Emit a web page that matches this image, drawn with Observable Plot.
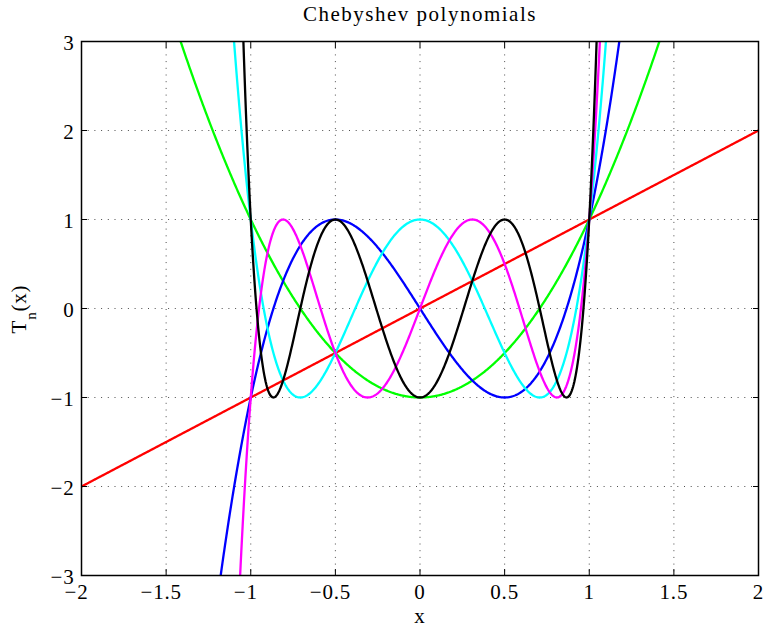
<!DOCTYPE html>
<html><head><meta charset="utf-8">
<script src="https://cdn.jsdelivr.net/npm/d3@7"></script>
<script src="https://cdn.jsdelivr.net/npm/@observablehq/plot@0.6"></script>
<style>html,body{margin:0;padding:0;background:#fff}</style>
</head><body><div id="chart"></div>
<script>
// ---- data ----
const titleText = "Chebyshev polynomials";
const xLabel = "x";
const yLabelMain = "T";
const yLabelSub = "n";
const yLabelTail = "(x)";
const xTicks = [-2, -1.5, -1, -0.5, 0, 0.5, 1, 1.5, 2];
const yTicks = [-3, -2, -1, 0, 1, 2, 3];
const degrees = [1, 2, 3, 4, 5, 6];
const seriesColors = ["#ff0000", "#00ff00", "#0000ff", "#00ffff", "#ff00ff", "#000000"];
// Chebyshev polynomial coefficients, ascending powers of x
const T1 = [0, 1];
const T2 = [-1, 0, 2];
const T3 = [0, -3, 0, 4];
const T4 = [1, 0, -8, 0, 8];
const T5 = [0, 5, 0, -20, 0, 16];
const T6 = [-1, 0, 18, 0, -48, 0, 32];
const coefficients = [T1, T2, T3, T4, T5, T6];
const xSamples = d3.range(-2, 2.00001, 0.004);

// ---- build table ----
const horner = (c, x) => c.reduceRight((acc, a) => acc * x + a, 0);
const rows = [];
coefficients.forEach((c, i) => {
  xSamples.forEach(x => rows.push({n: degrees[i], x, y: horner(c, x)}));
});

const fmt = d => (d < 0 ? "\u2212" : "") + String(Math.abs(d));
const gridStyle = {stroke: "#000", strokeOpacity: 0.7, strokeWidth: 1, strokeDasharray: "1,5.7"};
const font = "'Liberation Serif', 'Times New Roman', serif";

const chart = Plot.plot({
  width: 764,
  height: 628,
  marginTop: 41,
  marginBottom: 53,
  marginLeft: 81,
  marginRight: 6,
  x: {domain: [-2, 2]},
  y: {domain: [-3, 3]},
  color: {domain: degrees, range: seriesColors},
  style: {fontFamily: font, fontSize: "21px", background: "#fff", color: "#000", letterSpacing: "0.8px"},
  marks: [
    Plot.gridX(xTicks.slice(1, -1), gridStyle),
    Plot.gridY(yTicks.slice(1, -1), gridStyle),
    Plot.line(rows, {x: "x", y: "y", z: "n", stroke: "n", strokeWidth: 2.3, clip: true}),
    Plot.frame({stroke: "#000", strokeWidth: 1.5}),
    // inward ticks on all four sides
    Plot.axisX(xTicks, {anchor: "bottom", tickSize: 6, dy: -6, fill: "none", label: null}),
    Plot.axisX(xTicks, {anchor: "top", tickSize: 6, dy: 6, fill: "none", label: null}),
    Plot.axisY(yTicks, {anchor: "left", tickSize: 6, dx: 6, fill: "none", label: null}),
    Plot.axisY(yTicks, {anchor: "right", tickSize: 6, dx: -6, fill: "none", label: null}),
    // tick labels
    Plot.axisX(xTicks.filter(d => d < 0), {anchor: "bottom", tickSize: 0, tickPadding: 9, dx: -5, stroke: "none", label: null, tickFormat: fmt}),
    Plot.axisX(xTicks.filter(d => d >= 0), {anchor: "bottom", tickSize: 0, tickPadding: 9, stroke: "none", label: null, tickFormat: fmt}),
    Plot.axisY(yTicks, {anchor: "left", tickSize: 0, tickPadding: 7, dy: 2, stroke: "none", label: null, tickFormat: fmt}),
    // title and x label
    Plot.text([titleText], {frameAnchor: "top", lineAnchor: "middle", dy: -27, fontSize: 21, className: "chart-title"}),
    Plot.text([xLabel], {frameAnchor: "bottom", lineAnchor: "middle", dy: 41, fontSize: 21})
  ]
});

const svg = d3.select(chart);
svg.selectAll(".chart-title text").style("letter-spacing", "1.5px");

// y label with subscript
const yl = svg.append("text")
  .attr("transform", "translate(26,309) rotate(-90)")
  .attr("text-anchor", "middle")
  .attr("font-family", font)
  .attr("font-size", 21)
  .attr("fill", "#000");
yl.append("tspan").text(yLabelMain);
yl.append("tspan").attr("font-size", 15).attr("dy", 10).text(yLabelSub);
yl.append("tspan").attr("dy", -10).text(yLabelTail);

document.getElementById("chart").appendChild(chart);
</script>
</body></html>
